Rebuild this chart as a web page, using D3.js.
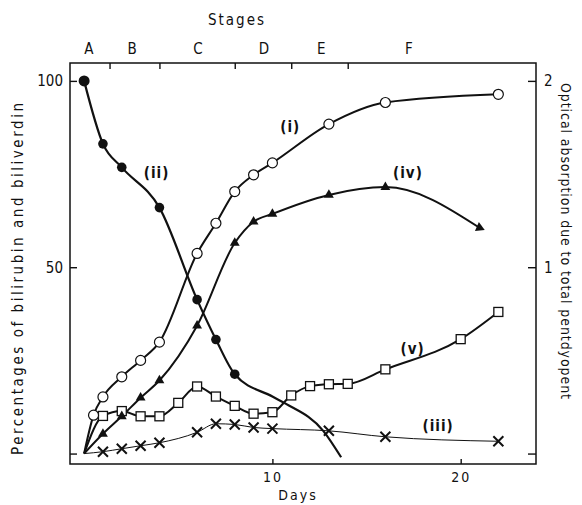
<!DOCTYPE html>
<html><head><meta charset="utf-8">
<script src="https://cdn.jsdelivr.net/npm/d3@7/dist/d3.min.js"></script>
<style>
body{margin:0;background:#fff;}
text{font-family:"DejaVu Sans Condensed","DejaVu Sans",sans-serif;fill:#111;}
</style></head>
<body><svg id="chart" width="582" height="505"></svg>
<script>
// ---- data (days, percentages) ----
const daysI   = [0, 0.5, 1, 2, 3, 4, 6, 7, 8, 9, 10, 13, 16, 22];
const valsI   = [0, 10.3, 15.2, 20.6, 25, 29.9, 53.7, 61.8, 70.3, 74.8, 78, 88.4, 94.2, 96.4];
const markI   = [false, true, true, true, true, true, true, true, true, true, true, true, true, true];

const daysII  = [0, 1, 2, 4, 6, 7, 8, 10, 10.7, 12.7, 13.65];
const valsII  = [100, 83.1, 76.8, 66, 41.3, 30.6, 21.3, 15.3, 13.4, 6.1, -1];
const markII  = [true, true, true, true, true, true, true, false, false, false, false];

const daysIII = [0, 1, 2, 3, 4, 6, 7, 8, 9, 10, 13, 16, 22];
const valsIII = [0, 0.5, 1.3, 2.1, 2.9, 5.7, 8, 7.8, 7.0, 6.7, 6.1, 4.5, 3.3];

const daysIV  = [0, 1, 2, 3, 4, 6, 8, 9, 10, 13, 16, 21];
const valsIV  = [0, 5.3, 10, 15, 19.6, 34.3, 56.5, 62.2, 64.3, 69.4, 71.5, 60.6];

const daysV   = [0, 1, 2, 3, 4, 5, 6, 7, 8, 9, 10, 11, 12, 13, 14, 16, 20, 22];
const valsV   = [0, 10.1, 11.4, 10, 10, 13.6, 18, 15.3, 12.8, 10.7, 11.1, 15.6, 18.1, 18.6, 18.7, 22.6, 30.7, 38];

const stageTicks  = [1.35, 4, 8, 11, 14];
const stageNames  = ["A", "B", "C", "D", "E", "F"];
const stageDays   = [0.25, 2.55, 6.05, 9.55, 12.6, 17.25];

const xTicks      = [10, 20];
const yTicks      = [0, 50, 100];
const yRightTicks = [0, 1, 2];

const seriesNames = ["(i)", "(ii)", "(iii)", "(iv)", "(v)"];
const labelDays   = [10.95, 3.85, 18.8, 17.2, 17.45];
const labelVals   = [87.6, 75.3, 7.4, 75.3, 28.1];

// ---- chart ----
const svg = d3.select("#chart");
const L = 70, R = 536, T = 63, B = 464;
const x = d3.scaleLinear().domain([-0.75, 24]).range([L, 536.0]);
const y = d3.scaleLinear().domain([-2.8, 104.8]).range([B, T]);
const yR = d3.scaleLinear().domain([-0.056, 2.096]).range([B, T]);

function styleAxis(g){
  g.select(".domain").remove();
  g.selectAll(".tick line").attr("stroke","#111").attr("stroke-width",1.4);
  g.selectAll(".tick text").style("font-family",'"DejaVu Sans Condensed",sans-serif').attr("fill","#111");
}

svg.append("g").attr("transform",`translate(${L},0)`)
  .call(d3.axisLeft(y).tickValues(yTicks).tickSize(-7).tickPadding(7).tickFormat(d=>d===0?"":d))
  .call(styleAxis).selectAll("text").attr("font-size",15);
svg.append("g").attr("transform",`translate(${R},0)`)
  .call(d3.axisRight(yR).tickValues(yRightTicks).tickSize(-8).tickPadding(8).tickFormat(d=>d===0?"":d))
  .call(styleAxis).selectAll("text").attr("font-size",15);
svg.append("g").attr("transform",`translate(0,${B})`)
  .call(d3.axisBottom(x).tickValues(xTicks).tickSize(-5).tickPadding(8))
  .call(styleAxis).selectAll("text").attr("font-size",14).attr("letter-spacing",2);
svg.append("g").attr("transform",`translate(0,${T})`)
  .call(d3.axisTop(x).tickValues(stageTicks).tickSize(-6).tickFormat(""))
  .call(styleAxis);

svg.append("rect").attr("x",L).attr("y",T).attr("width",R-L).attr("height",B-T)
  .attr("fill","none").attr("stroke","#111").attr("stroke-width",1.5);

// stage labels
svg.selectAll(".stage").data(stageNames).enter().append("text")
  .attr("x",(d,i)=>x(stageDays[i])).attr("y",54).attr("text-anchor","middle")
  .attr("font-size",15).text(d=>d);
svg.append("text").attr("x",237).attr("y",25).attr("text-anchor","middle")
  .attr("font-size",15).attr("letter-spacing",2).text("Stages");
svg.append("text").attr("x",298).attr("y",500).attr("text-anchor","middle")
  .attr("font-size",14).attr("letter-spacing",2).text("Days");

svg.append("text").attr("transform","translate(23,279) rotate(-90)").attr("text-anchor","middle")
  .attr("font-size",15).attr("textLength",352).attr("lengthAdjust","spacing")
  .text("Percentages of bilirubin and biliverdin");
svg.append("text").attr("transform","translate(561,241) rotate(90)").attr("text-anchor","middle")
  .attr("font-size",14).attr("textLength",316).attr("lengthAdjust","spacing")
  .text("Optical absorption due to total pentdyopent");

// lines
const line = d3.line().x(d=>x(d[0])).y(d=>y(d[1])).curve(d3.curveMonotoneX);
function drawLine(days, vals, w){
  svg.append("path").datum(days.map((d,i)=>[d,vals[i]]))
    .attr("d",line).attr("fill","none").attr("stroke","#111").attr("stroke-width",w);
}
drawLine(daysIII, valsIII, 1);
drawLine(daysV, valsV, 2);
drawLine(daysIV, valsIV, 2);
drawLine(daysI, valsI, 2);
drawLine(daysII, valsII, 2.2);

// markers
// (iii) crosses
daysIII.forEach((d,i)=>{ if(i===0) return;
  const cx=x(d), cy=y(valsIII[i]), s=5;
  svg.append("path").attr("d",`M${cx-s},${cy-s}L${cx+s},${cy+s}M${cx-s},${cy+s}L${cx+s},${cy-s}`)
    .attr("stroke","#111").attr("stroke-width",2);
});
// (v) open squares
svg.selectAll(".sq").data(daysV.slice(1)).enter().append("rect")
  .attr("x",d=>x(d)-4.5).attr("y",(d,i)=>y(valsV[i+1])-4.5).attr("width",9).attr("height",9)
  .attr("fill","#fff").attr("stroke","#111").attr("stroke-width",1.3);
// (iv) filled triangles
daysIV.forEach((d,i)=>{ if(i===0) return;
  const cx=x(d), cy=y(valsIV[i]);
  let ang = 0;
  if(i===daysIV.length-1){ ang = Math.atan2(y(valsIV[i])-y(valsIV[i-1]), x(d)-x(daysIV[i-1]))*180/Math.PI + 90; }
  svg.append("path").attr("d",d3.symbol(d3.symbolTriangle,42)())
    .attr("transform",`translate(${cx},${cy}) rotate(${ang})`).attr("fill","#111");
});
// (i) open circles
svg.selectAll(".oc").data(daysI.filter((d,i)=>markI[i])).enter().append("circle")
  .attr("cx",d=>x(d)).attr("cy",d=>y(valsI[daysI.indexOf(d)])).attr("r",5)
  .attr("fill","#fff").attr("stroke","#111").attr("stroke-width",1.2);
// (ii) filled circles
svg.selectAll(".fc").data(daysII.filter((d,i)=>markII[i])).enter().append("circle")
  .attr("cx",d=>x(d)).attr("cy",d=>y(valsII[daysII.indexOf(d)])).attr("r",d=>d===0?5.5:4.8)
  .attr("fill","#111");

// series labels
svg.selectAll(".lab").data(seriesNames).enter().append("text")
  .attr("x",(d,i)=>x(labelDays[i])).attr("y",(d,i)=>y(labelVals[i])+5).attr("text-anchor","middle")
  .attr("font-size",15).attr("font-weight","bold").attr("letter-spacing",1).text(d=>d);
</script></body></html>
